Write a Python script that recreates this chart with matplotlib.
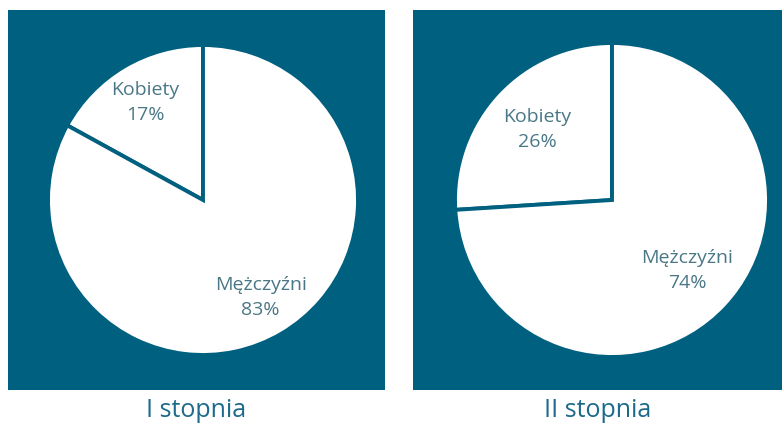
import matplotlib
matplotlib.use("Agg")
import matplotlib.pyplot as plt
import numpy as np

categories = ["Kobiety", "Mężczyźni"]
values_1 = [17, 83]
values_2 = [26, 74]
titles = ["I stopnia", "II stopnia"]

BG = "#00607f"
LABEL = "#4a7786"
TITLE = "#1d6a8a"

plt.rcParams['font.family'] = ['Open Sans', 'DejaVu Sans']

fig = plt.figure(figsize=(7.83, 4.23), dpi=100)
fig.patch.set_facecolor("white")

W, H = 783, 423
panels = [(8, 10, 385, 390), (413, 10, 782, 390)]
centers = [(203, 200, 155), (612, 200, 157)]
label_dist = [0.73, 0.655]

for (x0, y0, x1, y1), (cx, cy, rp), vals, title, ld in zip(
        panels, centers, [values_1, values_2], titles, label_dist):
    ax = fig.add_axes([x0 / W, 1 - y1 / H, (x1 - x0) / W, (y1 - y0) / H])
    wedges, _ = ax.pie(vals, startangle=90, counterclock=True,
                       colors=["white", "white"], radius=1.0, frame=True,
                       wedgeprops=dict(edgecolor=BG, linewidth=2.8))
    ax.set_facecolor(BG)
    ax.patch.set_visible(True)
    ax.set_xlim(-(cx - x0) / rp, (x1 - cx) / rp)
    ax.set_ylim(-(y1 - cy) / rp, (cy - y0) / rp)
    ax.set_aspect("auto")
    ax.set_xticks([]); ax.set_yticks([])
    for s in ax.spines.values():
        s.set_visible(False)
    for w, cat, v in zip(wedges, categories, vals):
        mid = np.deg2rad((w.theta1 + w.theta2) / 2)
        ax.text(ld * np.cos(mid), ld * np.sin(mid), f"{cat}\n{v}%",
                ha="center", va="center", fontsize=14, color=LABEL,
                linespacing=1.55)
    tx = (x0 + x1) / 2 / W
    fig.text(tx, 1 - 410 / H, title, ha="center", va="center",
             fontsize=18, color=TITLE)

fig.savefig("out.png", dpi=100, facecolor="white")
